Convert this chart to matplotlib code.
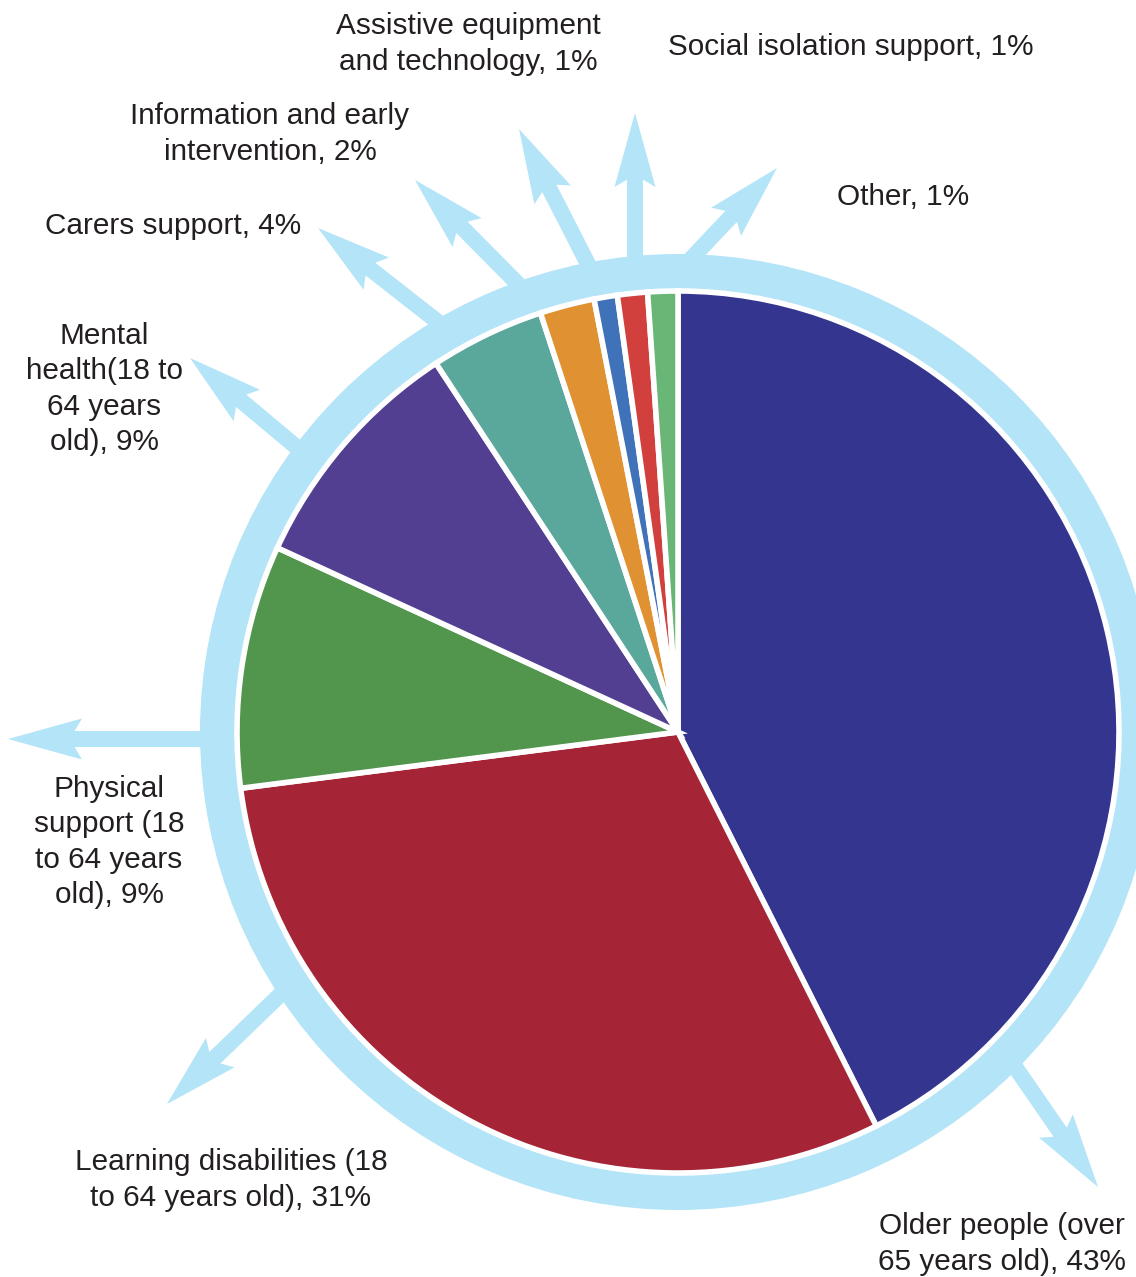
import matplotlib.pyplot as plt
from matplotlib.patches import Wedge, FancyArrow

# slice shares (labels show the rounded figures)
categories = ["Older people (over\n65 years old), 43%",
              "Learning disabilities (18\nto 64 years old), 31%",
              "Physical\nsupport (18\nto 64 years\nold), 9%",
              "Mental\nhealth(18 to\n64 years\nold), 9%",
              "Carers support, 4%",
              "Information and early\nintervention, 2%",
              "Assistive equipment\nand technology, 1%",
              "Social isolation support, 1%",
              "Other, 1%"]
values = [42.6, 30.4, 8.9, 8.9, 4.2, 2.0, 0.85, 1.1, 1.1]
colors = ["#34358f", "#a52537", "#52964e", "#523f92", "#5aa79c",
          "#e09233", "#3f72b8", "#d2403d", "#69b676"]

W, H = 1136, 1277
ring_col = "#b4e4f7"
cx, cy = 678, H - 732
R = 441

# label centres (image pixels, y from top)
label_pos = [(1002, 1244), (231, 1180), (109, 842), (104, 389), (173, 226),
             (270, 134), (468, 44), (851, 47), (903, 197)]
# arrows: base on ring -> tip (image pixels, y from top)
arrow_pos = [(1000, 1045, 1098, 1187), (285, 990, 167, 1104), (215, 739, 8, 739),
             (300, 450, 190, 358), (438, 322, 318, 228), (520, 286, 415, 180),
             (590, 268, 519, 129), (635, 270, 635, 113), (688, 262, 777, 168)]

fig = plt.figure(figsize=(W / 100, H / 100), dpi=100)
ax = fig.add_axes([0, 0, 1, 1])

for x0, y0, x1, y1 in arrow_pos:
    ax.add_patch(FancyArrow(x0, H - y0, x1 - x0, y0 - y1, width=16, head_width=41,
                            head_length=74, overhang=0.1, length_includes_head=True,
                            color=ring_col, lw=0, zorder=1))

ax.add_patch(Wedge((cx, cy), R + 37, 0, 360, width=36, color=ring_col, lw=0, zorder=2))

wedges, _ = ax.pie(values, colors=colors, startangle=90, counterclock=False,
                   center=(cx, cy), radius=R,
                   wedgeprops=dict(edgecolor="white", linewidth=4))
for w in wedges:
    w.set_zorder(3)

for txt, (x, y) in zip(categories, label_pos):
    ax.text(x, H - y, txt, ha="center", va="center", fontsize=21.4,
            family="Liberation Sans", color="#231f20", linespacing=1.33)

ax.set_xlim(0, W)
ax.set_ylim(0, H)
ax.set_aspect("equal")
ax.axis("off")
fig.savefig("out.png", dpi=100)
